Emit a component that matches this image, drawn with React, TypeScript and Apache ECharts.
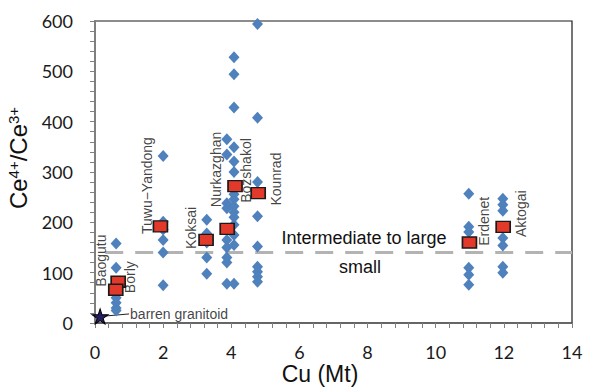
import { useEffect, useRef } from "react";
import * as echarts from "echarts";

// ---- data ----
const depositCu = [0.62, 2.0, 3.28, 3.87, 4.08, 4.77, 10.97, 11.97];
const baogutuRatios = [158, 110, 50, 40, 30, 25];
const tuwuRatios = [332, 201, 186, 165, 140, 75];
const koksaiRatios = [205, 178, 160, 130, 98];
const nurkazghanRatios = [365, 335, 238, 228, 165, 150, 130, 120, 78];
const bozshakolRatios = [528, 494, 428, 349, 321, 300, 256, 246, 232, 220, 210, 195, 175, 155, 78];
const kounradRatios = [594, 408, 280, 212, 152, 112, 102, 92, 82];
const erdenetRatios = [257, 191, 181, 110, 96, 76];
const aktogaiRatios = [247, 235, 223, 169, 154, 112, 100];
const ratioGroups = [
  baogutuRatios,
  tuwuRatios,
  koksaiRatios,
  nurkazghanRatios,
  bozshakolRatios,
  kounradRatios,
  erdenetRatios,
  aktogaiRatios,
];

const meanCu = [0.68, 0.61, 1.92, 3.26, 3.88, 4.11, 4.79, 10.99, 11.98];
const meanRatio = [82, 66, 192, 165, 187, 272, 258, 160, 191];

const barrenCu = [0.15];
const barrenRatio = [13];
const barrenLeaderCu = [0.15, 1.0];
const barrenLeaderRatio = [13, 18];

const thresholdCu = [0.3, 14];
const thresholdRatio = 140;

const depositNames = [
  "Baogutu",
  "Borly",
  "Tuwu\u2212Yandong",
  "Koksai",
  "Nurkazghan",
  "Bozshakol",
  "Kounrad",
  "Erdenet",
  "Aktogai",
];
const depositLabelCu = [0.19, 1.03, 1.53, 2.82, 3.55, 4.43, 5.31, 11.42, 12.5];
const depositLabelRatio = [124, 91, 273, 189, 305, 303, 286, 202, 217];

const xTicks = { min: 0, max: 14, interval: 2 };
const yTicks = { min: 0, max: 600, interval: 100 };

const STAR =
  "path://M50,0 L61,35 L98,35 L68,57 L79,91 L50,70 L21,91 L32,57 L2,35 L39,35 Z";

export default function App() {
  const ref = useRef<HTMLDivElement>(null);

  useEffect(() => {
    if (!ref.current) return;
    const chart = echarts.init(ref.current, null, { renderer: "svg" });

    const diamonds: number[][] = [];
    ratioGroups.forEach((vals, i) => {
      vals.forEach((v) => diamonds.push([depositCu[i], v]));
    });
    const means = meanCu.map((c, i) => [c, meanRatio[i]]);
    const labels = depositNames.map((n, i) => ({
      name: n,
      value: [depositLabelCu[i], depositLabelRatio[i]],
    }));

    const tickStyle = { color: "#7f7f7f", width: 1 };
    const sans = "'Liberation Sans', Arial, sans-serif";

    chart.setOption({
      animation: false,
      grid: {
        left: 95,
        right: 28,
        top: 21,
        bottom: 67,
        show: true,
        borderColor: "#1a1a1a",
        borderWidth: 1.2,
        backgroundColor: "transparent",
      },
      xAxis: {
        type: "value",
        min: xTicks.min,
        max: xTicks.max,
        interval: xTicks.interval,
        axisLine: { show: true, onZero: false, lineStyle: { color: "#595959", width: 1.5 } },
        axisTick: { show: true, length: 5, lineStyle: tickStyle },
        minorTick: { show: true, splitNumber: 5, length: 5, lineStyle: tickStyle },
        splitLine: { show: false },
        minorSplitLine: { show: false },
        axisLabel: { fontFamily: "Lato", fontSize: 18, color: "#1a1a1a", margin: 20 },
      },
      yAxis: {
        type: "value",
        min: yTicks.min,
        max: yTicks.max,
        interval: yTicks.interval,
        axisLine: { show: true, onZero: false, lineStyle: { color: "#7f7f7f", width: 2 } },
        axisTick: { show: true, length: 5, lineStyle: tickStyle },
        minorTick: { show: true, splitNumber: 5, length: 5, lineStyle: tickStyle },
        splitLine: { show: false },
        minorSplitLine: { show: false },
        axisLabel: { fontFamily: "Lato", fontSize: 18, color: "#1a1a1a", margin: 22 },
      },
      series: [
        {
          type: "line",
          silent: true,
          data: thresholdCu.map((c) => [c, thresholdRatio]),
          symbol: "none",
          lineStyle: { color: "#b3b3b3", width: 3, type: [18, 12] },
          z: 1,
        },
        {
          type: "line",
          silent: true,
          data: barrenLeaderCu.map((c, i) => [c, barrenLeaderRatio[i]]),
          symbol: "none",
          lineStyle: { color: "#222", width: 1 },
          z: 2,
        },
        {
          type: "scatter",
          silent: true,
          symbol: "diamond",
          symbolSize: [11, 12],
          itemStyle: { color: "#4f81bd", opacity: 1 },
          data: diamonds,
          z: 3,
        },
        {
          type: "scatter",
          silent: true,
          symbol: "rect",
          symbolSize: [14, 11],
          itemStyle: { color: "#e3392b", borderColor: "#1a1a1a", borderWidth: 1.5, opacity: 1 },
          data: means,
          z: 4,
        },
        {
          type: "scatter",
          silent: true,
          symbol: STAR,
          symbolSize: [16, 15],
          itemStyle: { color: "#241e63", borderColor: "#000", borderWidth: 1, opacity: 1 },
          data: barrenCu.map((c, i) => [c, barrenRatio[i]]),
          z: 5,
        },
        {
          type: "scatter",
          silent: true,
          symbolSize: 0,
          itemStyle: { color: "rgba(0,0,0,0)" },
          data: [{ name: "barren granitoid", value: [barrenLeaderCu[1], barrenLeaderRatio[1]] }],
          label: {
            show: true,
            position: "right",
            distance: 1,
            formatter: "{b}",
            fontFamily: sans,
            fontSize: 14,
            color: "#111",
          },
          z: 6,
        },
        {
          type: "scatter",
          silent: true,
          symbolSize: 0,
          itemStyle: { color: "rgba(0,0,0,0)" },
          data: labels,
          label: {
            show: true,
            position: "inside",
            rotate: 90,
            formatter: "{b}",
            fontFamily: sans,
            fontSize: 14,
            color: "#111",
            align: "center",
            verticalAlign: "middle",
          },
          z: 6,
        },
      ],
      graphic: [
        {
          type: "text",
          x: 18,
          y: 158,
          rotation: Math.PI / 2,
          silent: true,
          style: {
            text: "Ce{s|4+}/Ce{s|3+}",
            fontFamily: sans,
            fontSize: 24,
            fill: "#111",
            align: "center",
            verticalAlign: "middle",
            rich: {
              s: { fontFamily: sans, fontSize: 15, verticalAlign: "top", fill: "#111" },
            },
          },
        },
        {
          type: "text",
          x: 320,
          y: 374,
          silent: true,
          style: {
            text: "Cu (Mt)",
            fontFamily: sans,
            fontSize: 23,
            fill: "#111",
            align: "center",
            verticalAlign: "middle",
          },
        },
        {
          type: "text",
          x: 364,
          y: 238,
          silent: true,
          style: {
            text: "Intermediate to large",
            fontFamily: sans,
            fontSize: 18,
            fill: "#111",
            align: "center",
            verticalAlign: "middle",
          },
        },
        {
          type: "text",
          x: 360,
          y: 267,
          silent: true,
          style: {
            text: "small",
            fontFamily: sans,
            fontSize: 18,
            fill: "#111",
            align: "center",
            verticalAlign: "middle",
          },
        },
      ],
    });

    return () => chart.dispose();
  }, []);

  return (
    <div
      ref={ref}
      style={{ position: "fixed", left: 0, top: 0, width: 600, height: 390, background: "#fff" }}
    />
  );
}
